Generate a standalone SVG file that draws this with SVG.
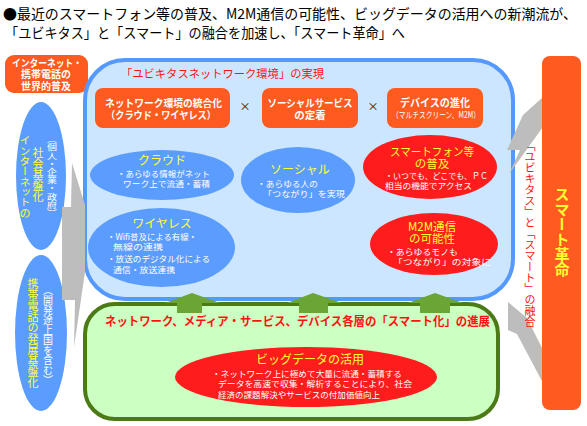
<svg xmlns="http://www.w3.org/2000/svg" width="587" height="426" viewBox="0 0 587 426">
<defs>
<style>
text{font-family:"Noto Sans CJK JP","Noto Sans",sans-serif;}
.ttl{font-size:14px;fill:#000;}
.ob{fill:#ff5a1f;}
.wb{fill:#fff;font-weight:bold;}
.yl{fill:#ffff33;}
.wh{fill:#fff;font-size:8.5px;}
.rd{fill:#ff1111;}
.be{fill:#5b9cff;}
.re{fill:#ff1c1c;}
.gr{fill:#bdbdbd;}
.ga{fill:#6aa535;}
.vt{writing-mode:vertical-rl;}
.mid{text-anchor:middle;}
</style>
</defs>
<rect width="587" height="426" fill="#fff"/>
<g id="title">
<text class="ttl" x="3" y="19" textLength="574" lengthAdjust="spacingAndGlyphs">●最近のスマートフォン等の普及、M2M通信の可能性、ビッグデータの活用への新潮流が、</text>
<text class="ttl" x="5" y="38" textLength="400" lengthAdjust="spacingAndGlyphs">「ユビキタス」と「スマート」の融合を加速し、「スマート革命」へ</text>
</g>
<g id="world">
<rect class="ob" x="5" y="55" width="83" height="38" rx="9"/>
<text class="wb mid" x="47" y="66.5" font-size="10" textLength="70" lengthAdjust="spacingAndGlyphs">インターネット・</text>
<text class="wb mid" x="46" y="78" font-size="10">携帯電話の</text>
<text class="wb mid" x="46" y="89.5" font-size="10">世界的普及</text>
</g>
<g id="internet">
<ellipse class="be" cx="41" cy="176" rx="25" ry="74"/>
<text class="vt yl" x="25" y="135" font-size="11" textLength="83" lengthAdjust="spacingAndGlyphs">インターネットの</text>
<text class="vt yl" x="38" y="147" font-size="11">社会基盤化</text>
<text class="vt" fill="#fff" x="52" y="135" font-size="10" textLength="82" lengthAdjust="spacingAndGlyphs">（個人・企業・政府）</text>
</g>
<g id="mobile">
<ellipse class="be" cx="41" cy="333" rx="26" ry="78"/>
<text class="vt yl" x="33" y="278" font-size="11">携帯電話の発展基盤化</text>
<text class="vt" fill="#fff" x="48" y="285" font-size="10">（開発途上国を含む）</text>
</g>
<g id="ubiq">
<rect x="85" y="60" width="428" height="239" rx="40" fill="#cce6ff" stroke="#5599ff" stroke-width="4"/>
<text class="rd" x="121" y="77.5" font-size="11.5" textLength="203" lengthAdjust="spacingAndGlyphs">「ユビキタスネットワーク環境」の実現</text>
</g>
<g id="smart-layer">
<rect x="85" y="304" width="413" height="115" rx="30" fill="#ccffc2" stroke="#4b7a17" stroke-width="4"/>
</g>
<g id="connectors">
<polygon class="ga" points="165,303 192,293 220,303 202,303 202,313 177,313 177,303"/>
<polygon class="ga" points="287,303 313,293 342,303 328,303 328,313 299,313 299,303"/>
<polygon class="ga" points="408,303 435,293 463,303 450,303 450,313 420,313 420,303"/>
<polygon class="gr" points="62,207 71,207 72,163 85,205 85,272 74,347 75,300 62,300"/>
<polygon class="gr" points="543,97 543,127 509,174 520,150 507,150 523,115"/>
<polygon class="gr" points="508,302 527,318 543,350 543,383 517,334 508,330"/>
</g>
<g id="net-integration">
<rect class="ob" x="95" y="88" width="135" height="40" rx="8"/>
<text class="wb mid" x="163.5" y="106.5" font-size="10.5" textLength="117" lengthAdjust="spacingAndGlyphs">ネットワーク環境の統合化</text>
<text class="wb mid" x="161" y="118.5" font-size="10.5" textLength="110" lengthAdjust="spacingAndGlyphs">（クラウド・ワイヤレス）</text>
</g>
<text x="245" y="111" font-size="11" class="mid" fill="#111">×</text>
<g id="social-service">
<rect class="ob" x="262" y="88" width="96" height="40" rx="8"/>
<text class="wb mid" x="310" y="106.5" font-size="10.5" textLength="85" lengthAdjust="spacingAndGlyphs">ソーシャルサービス</text>
<text class="wb mid" x="310" y="118.5" font-size="10.5">の定着</text>
</g>
<text x="373" y="111" font-size="11" class="mid" fill="#111">×</text>
<g id="device">
<rect class="ob" x="387" y="88" width="96" height="40" rx="8"/>
<text class="wb mid" x="435" y="106.5" font-size="11" textLength="70" lengthAdjust="spacingAndGlyphs">デバイスの進化</text>
<text class="mid" fill="#fff" x="436" y="118" font-size="8.5" textLength="88" lengthAdjust="spacingAndGlyphs">（マルチスクリーン、M2M）</text>
</g>
<g id="cloud">
<ellipse class="be" cx="162" cy="175" rx="72" ry="25"/>
<text class="yl mid" x="162" y="164.5" font-size="12">クラウド</text>
<text class="wh" x="117" y="176.5" textLength="93" lengthAdjust="spacingAndGlyphs">・あらゆる情報がネット</text>
<text class="wh" x="123" y="187" textLength="87" lengthAdjust="spacingAndGlyphs">ワーク上で流通・蓄積</text>
</g>
<g id="social">
<ellipse class="be" cx="298" cy="180" rx="57" ry="33"/>
<text class="yl mid" x="300" y="174" font-size="12">ソーシャル</text>
<text class="wh" x="257" y="186.5" textLength="61" lengthAdjust="spacingAndGlyphs">・あらゆる人の</text>
<text class="wh" x="263" y="197" textLength="82" lengthAdjust="spacingAndGlyphs">「つながり」を実現</text>
</g>
<g id="wireless">
<ellipse class="be" cx="161.5" cy="247.5" rx="73.5" ry="39.5"/>
<text class="yl mid" x="162" y="227.5" font-size="12">ワイヤレス</text>
<text class="wh" x="107" y="240" textLength="90" lengthAdjust="spacingAndGlyphs">・Wifi普及による有線・</text>
<text class="wh" x="113" y="250" textLength="50" lengthAdjust="spacingAndGlyphs">無線の連携</text>
<text class="wh" x="107" y="261.5" textLength="103" lengthAdjust="spacingAndGlyphs">・放送のデジタル化による</text>
<text class="wh" x="113" y="272.5" textLength="62" lengthAdjust="spacingAndGlyphs">通信・放送連携</text>
</g>
<g id="smartphone">
<ellipse class="re" cx="430" cy="167" rx="67" ry="32"/>
<text class="yl mid" x="432" y="156" font-size="11.5" textLength="84" lengthAdjust="spacingAndGlyphs">スマートフォン等</text>
<text class="yl mid" x="432" y="167.5" font-size="11.5">の普及</text>
<text class="wh" x="385" y="179" textLength="103" lengthAdjust="spacingAndGlyphs">・いつでも、どこでも、ＰＣ</text>
<text class="wh" x="385" y="189" textLength="87" lengthAdjust="spacingAndGlyphs">相当の機能でアクセス</text>
</g>
<g id="m2m">
<ellipse class="re" cx="434" cy="244" rx="64" ry="31"/>
<text class="yl mid" x="432" y="231" font-size="11.5">M2M通信</text>
<text class="yl mid" x="432" y="242.5" font-size="11.5">の可能性</text>
<text class="wh" x="387" y="255" textLength="71" lengthAdjust="spacingAndGlyphs">・あらゆるモノも</text>
<text class="wh" x="393" y="265" textLength="98" lengthAdjust="spacingAndGlyphs">「つながり」の対象に</text>
</g>
<text class="rd" x="105" y="325.5" font-size="12" font-weight="bold" textLength="385" lengthAdjust="spacingAndGlyphs">ネットワーク、メディア・サービス、デバイス各層の「スマート化」の進展</text>
<g id="bigdata">
<ellipse class="re" cx="306" cy="377" rx="131" ry="30"/>
<text class="yl mid" x="310" y="364" font-size="12">ビッグデータの活用</text>
<text class="wh" x="212" y="376.5" textLength="190" lengthAdjust="spacingAndGlyphs">・ネットワーク上に極めて大量に流通・蓄積する</text>
<text class="wh" x="218" y="387" textLength="194" lengthAdjust="spacingAndGlyphs">データを高速で収集・解析することにより、社会</text>
<text class="wh" x="218" y="397.5" textLength="162" lengthAdjust="spacingAndGlyphs">経済の課題解決やサービスの付加価値向上</text>
</g>
<text class="vt rd" x="530" y="140" font-size="11" textLength="187" lengthAdjust="spacingAndGlyphs">「ユビキタス」と「スマート」の融合</text>
<g id="smart-revolution">
<rect class="ob" x="542" y="56" width="39" height="354" rx="8"/>
<text class="vt yl" x="562" y="187" font-size="15" font-weight="bold">スマート革命</text>
</g>
</svg>
